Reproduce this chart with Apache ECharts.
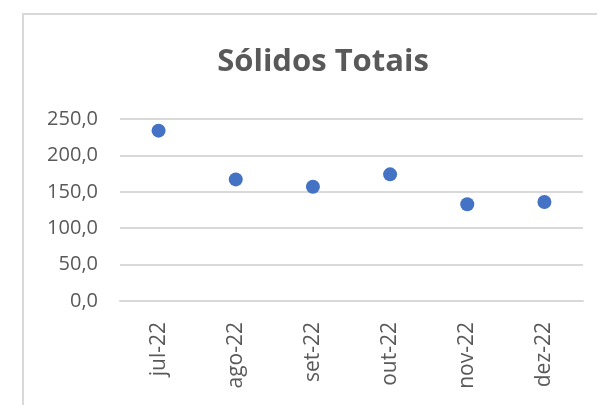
<!DOCTYPE html>
<html>
<head>
<meta charset="utf-8">
<script src="https://cdn.jsdelivr.net/npm/echarts@6/dist/echarts.min.js"></script>
<style>
    html, body { margin: 0; padding: 0; background: #fff; }
    #chart { width: 597px; height: 405px; }
</style>
</head>
<body>
<div id="chart"></div>
<script>
    // dados
    var meses = ['jul-22', 'ago-22', 'set-22', 'out-22', 'nov-22', 'dez-22'];
    var solidos = [234, 167, 157, 174, 133, 136];
    var yTicks = [0, 50, 100, 150, 200, 250];

    var myChart = echarts.init(document.getElementById('chart'));
    myChart.setOption({
        animation: false,
        textStyle: { fontFamily: 'Open Sans' },
        title: {
            text: 'Sólidos Totais',
            left: 318,
            textAlign: 'center',
            top: 42,
            textStyle: { fontSize: 31, fontWeight: 'bold', color: '#595959', fontFamily: 'Open Sans' }
        },
        graphic: [{
            type: 'rect',
            shape: { x: 23, y: 14, width: 620, height: 420 },
            style: { fill: 'none', stroke: '#d9d9d9', lineWidth: 2 }
        }],
        grid: { left: 120, right: 14, top: 119, bottom: 104 },
        xAxis: {
            type: 'category',
            data: meses,
            axisLine: { lineStyle: { color: '#d9d9d9', width: 2 } },
            axisTick: { show: false },
            axisLabel: { rotate: 90, margin: 21, fontSize: 21, color: '#595959' }
        },
        yAxis: {
            type: 'value',
            min: yTicks[0],
            max: yTicks[yTicks.length - 1],
            interval: 50,
            axisLine: { show: false },
            axisTick: { show: false },
            splitLine: { lineStyle: { color: '#d9d9d9', width: 2 } },
            axisLabel: {
                margin: 22,
                fontSize: 20,
                color: '#595959',
                formatter: function (v) { return v.toFixed(1).replace('.', ','); }
            }
        },
        series: [{
            type: 'scatter',
            data: solidos,
            symbolSize: 14,
            itemStyle: { color: '#4472c4', opacity: 1 }
        }]
    });
</script>
</body>
</html>
